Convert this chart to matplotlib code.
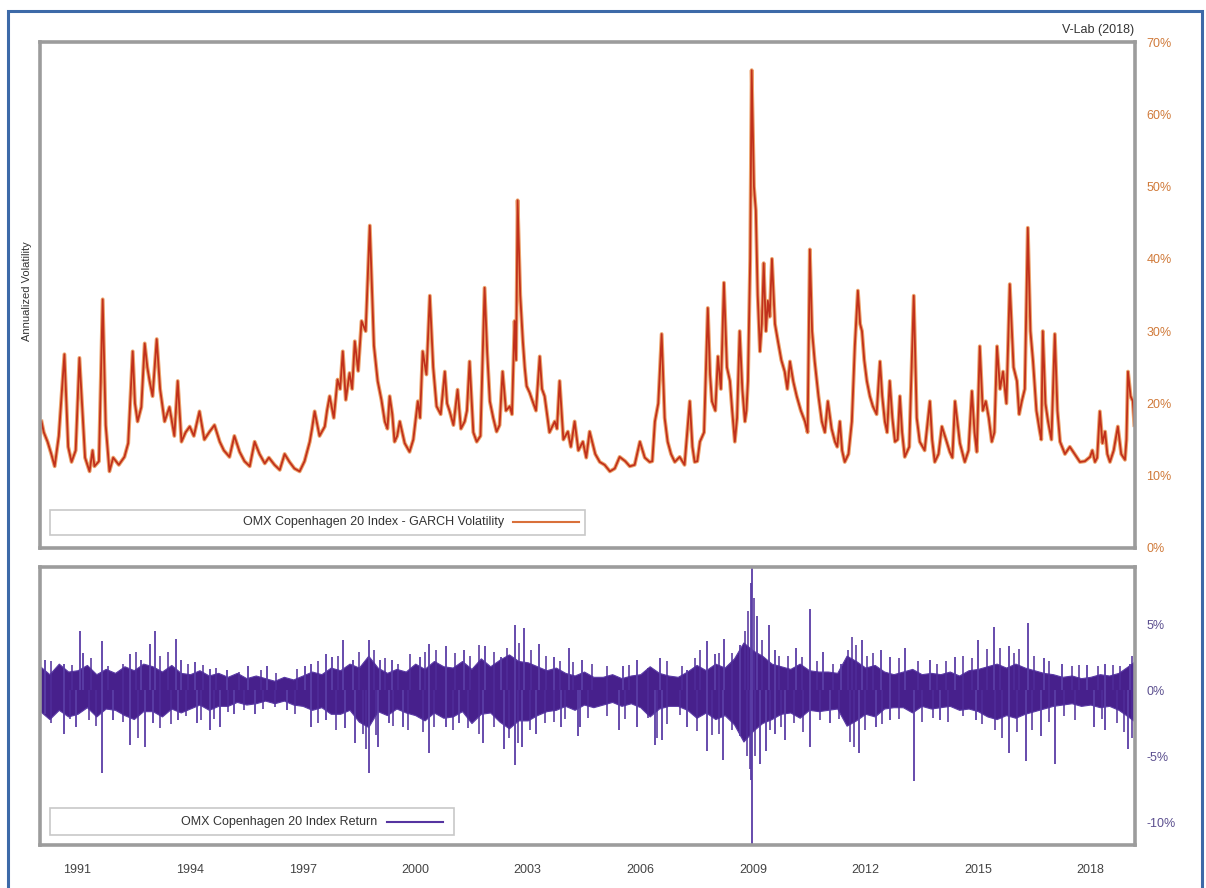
import matplotlib
matplotlib.use('Agg')
import matplotlib.pyplot as plt
from matplotlib.patches import Rectangle
import numpy as np

plt.rcParams['font.family'] = ['Liberation Sans', 'DejaVu Sans']

# GARCH volatility (%): main turning points (decimal year, value)
vol_years = [1990.04, 1990.2, 1990.39, 1990.65, 1990.84, 1991.05, 1991.32, 1991.45, 1991.67, 1991.85,
             1992.25, 1992.47, 1992.6, 1992.79, 1992.92, 1993.11, 1993.32, 1993.67, 1993.77, 1993.99,
             1994.25, 1994.52, 1994.79, 1995.05, 1995.32, 1995.59, 1995.72, 1995.99, 1996.39, 1996.65,
             1996.92, 1997.19, 1997.32, 1997.59, 1997.72, 1997.93, 1998.07, 1998.25, 1998.39, 1998.57,
             1998.79, 1999.0, 1999.19, 1999.32, 1999.45, 1999.59, 1999.85, 2000.07, 2000.2, 2000.39,
             2000.57, 2000.79, 2000.92, 2001.13, 2001.32, 2001.45, 2001.64, 2001.85, 2001.99, 2002.17,
             2002.33, 2002.52, 2002.65, 2002.73, 2002.87, 2002.97, 2003.13, 2003.32, 2003.45, 2003.72,
             2003.85, 2004.07, 2004.25, 2004.47, 2004.65, 2004.92, 2005.19, 2005.45, 2005.72, 2005.99,
             2006.25, 2006.39, 2006.57, 2006.73, 2006.92, 2007.05, 2007.32, 2007.45, 2007.59, 2007.8,
             2007.91, 2008.07, 2008.23, 2008.39, 2008.52, 2008.65, 2008.79, 2008.87, 2008.97, 2009.08,
             2009.19, 2009.29, 2009.4, 2009.51, 2009.67, 2009.85, 2009.99, 2010.17, 2010.39, 2010.52,
             2010.65, 2010.84, 2011.0, 2011.19, 2011.32, 2011.45, 2011.64, 2011.8, 2011.91, 2012.04,
             2012.2, 2012.39, 2012.52, 2012.65, 2012.79, 2012.92, 2013.05, 2013.29, 2013.45, 2013.72,
             2013.85, 2014.04, 2014.25, 2014.39, 2014.65, 2014.84, 2014.97, 2015.05, 2015.21, 2015.37,
             2015.51, 2015.67, 2015.85, 2016.04, 2016.17, 2016.33, 2016.47, 2016.65, 2016.73, 2016.87,
             2017.05, 2017.19, 2017.45, 2017.72, 2017.99, 2018.12, 2018.25, 2018.39, 2018.52, 2018.73,
             2018.92, 2019.0, 2019.13]
vol_values = [17.5, 14.7, 11.3, 26.8, 11.9, 26.3, 10.6, 11.3, 34.4, 10.6,
              12.6, 27.2, 17.5, 28.3, 23.1, 28.9, 17.5, 23.1, 14.7, 16.8,
              18.9, 16.1, 14.7, 12.6, 13.3, 11.3, 14.7, 11.7, 10.8, 11.9,
              10.6, 14.7, 18.9, 16.8, 21.0, 23.3, 27.2, 24.2, 28.6, 31.4,
              44.6, 23.1, 17.5, 21.0, 14.7, 17.5, 13.3, 20.3, 27.2, 34.9,
              19.6, 24.4, 18.9, 21.9, 17.5, 25.8, 14.7, 36.0, 20.3, 16.1,
              24.4, 19.6, 31.4, 48.1, 28.6, 22.4, 20.3, 26.5, 21.0, 17.5,
              23.1, 16.1, 17.5, 14.7, 16.1, 11.9, 10.6, 12.6, 11.3, 14.7,
              11.9, 17.5, 29.6, 14.7, 11.9, 12.6, 20.3, 11.9, 14.7, 33.2,
              20.3, 26.5, 36.7, 23.1, 14.7, 30.0, 17.5, 23.1, 66.1, 46.7,
              27.2, 39.4, 34.2, 40.0, 28.6, 24.4, 25.8, 21.0, 17.5, 41.3,
              25.8, 17.5, 20.3, 14.7, 17.5, 11.9, 17.5, 35.6, 30.0, 23.1,
              19.6, 25.8, 17.5, 23.1, 14.7, 21.0, 12.6, 34.9, 14.7, 20.3,
              11.9, 16.8, 13.3, 20.3, 11.9, 21.7, 13.3, 27.9, 20.3, 14.7,
              27.9, 24.4, 36.5, 23.1, 20.3, 44.3, 25.8, 16.1, 30.0, 17.5,
              29.6, 14.7, 14.0, 11.9, 12.6, 11.9, 18.9, 16.1, 11.9, 16.8,
              12.2, 24.4, 20.3]

# smaller wiggles between the turning points
wiggle_years = [1990.1, 1990.3, 1990.5, 1990.75, 1990.95, 1991.2, 1991.4, 1991.57, 1991.75, 1991.95,
                1992.1, 1992.35, 1992.53, 1992.7, 1992.86, 1993.0, 1993.2, 1993.45, 1993.58, 1993.72,
                1993.88, 1994.1, 1994.38, 1994.65, 1994.9, 1995.18, 1995.45, 1995.85, 1996.1, 1996.25,
                1996.52, 1996.78, 1997.05, 1997.25, 1997.45, 1997.65, 1997.83, 1998.0, 1998.15, 1998.32,
                1998.48, 1998.68, 1998.9, 1999.1, 1999.26, 1999.39, 1999.52, 1999.72, 1999.95, 2000.13,
                2000.3, 2000.48, 2000.68, 2000.85, 2001.02, 2001.22, 2001.38, 2001.55, 2001.74, 2001.92,
                2002.08, 2002.25, 2002.42, 2002.58, 2002.69, 2002.8, 2002.92, 2003.05, 2003.22, 2003.38,
                2003.58, 2003.78, 2003.95, 2004.15, 2004.35, 2004.56, 2004.8, 2005.05, 2005.32, 2005.6,
                2005.85, 2006.12, 2006.32, 2006.48, 2006.65, 2006.82, 2007.18, 2007.39, 2007.52, 2007.7,
                2007.86, 2008.0, 2008.15, 2008.31, 2008.45, 2008.58, 2008.72, 2008.83, 2008.93, 2009.03,
                2009.13, 2009.24, 2009.35, 2009.45, 2009.59, 2009.76, 2009.92, 2010.08, 2010.28, 2010.46,
                2010.58, 2010.75, 2010.92, 2011.1, 2011.25, 2011.38, 2011.55, 2011.72, 2011.86, 2011.97,
                2012.12, 2012.3, 2012.45, 2012.58, 2012.72, 2012.86, 2012.98, 2013.17, 2013.37, 2013.58,
                2013.78, 2013.95, 2014.15, 2014.32, 2014.52, 2014.75, 2014.91, 2015.13, 2015.29, 2015.44,
                2015.59, 2015.76, 2015.95, 2016.1, 2016.25, 2016.4, 2016.56, 2016.69, 2016.8, 2016.96,
                2017.12, 2017.32, 2017.58, 2017.85, 2018.05, 2018.18, 2018.32, 2018.45, 2018.62, 2018.82,
                2018.96, 2019.07, 2019.17]
wiggle_values = [16.0, 13.0, 15.5, 14.0, 13.5, 12.5, 13.5, 12.0, 17.0, 12.5,
                 11.5, 14.5, 20.0, 19.5, 25.0, 21.0, 22.0, 19.5, 15.5, 19.0,
                 16.0, 15.5, 15.0, 17.0, 13.5, 15.5, 12.0, 13.0, 12.5, 11.5,
                 13.0, 11.0, 12.0, 16.5, 15.5, 19.0, 18.0, 22.0, 20.5, 22.0,
                 24.5, 30.0, 28.0, 20.5, 16.5, 18.5, 15.5, 14.5, 15.0, 18.0,
                 24.0, 25.0, 18.5, 20.0, 17.0, 16.5, 19.0, 16.0, 15.5, 27.0,
                 18.0, 17.0, 19.0, 18.5, 26.0, 35.0, 25.0, 21.5, 19.0, 22.0,
                 16.0, 16.5, 15.0, 14.0, 13.5, 12.5, 13.0, 11.5, 11.0, 12.0,
                 11.5, 12.5, 12.0, 20.0, 18.0, 13.0, 11.5, 14.0, 12.0, 16.0,
                 24.0, 19.0, 22.0, 25.0, 19.0, 18.0, 22.0, 19.0, 40.0, 50.0,
                 35.0, 31.0, 30.0, 32.0, 31.0, 26.0, 22.0, 23.0, 19.0, 16.0,
                 30.0, 21.0, 16.0, 16.5, 14.0, 13.5, 13.0, 28.0, 31.0, 26.0,
                 21.0, 18.5, 21.0, 16.0, 18.0, 15.0, 16.0, 14.0, 18.0, 13.5,
                 15.0, 13.0, 15.0, 12.5, 14.5, 13.5, 16.0, 19.0, 18.0, 16.0,
                 22.0, 20.0, 25.0, 18.5, 22.0, 30.0, 19.0, 15.0, 20.0, 15.0,
                 19.0, 13.0, 13.0, 12.0, 13.5, 12.5, 14.5, 13.0, 13.5, 13.0,
                 15.0, 21.0, 17.0]

# daily return (%): dense core band, one pair of edges per quarter
core_hi = [1.8, 1.2, 2.0, 1.4, 1.5, 1.9, 1.2, 1.6, 1.3, 1.8, 1.5, 2.0, 1.8, 1.4, 1.9, 1.3,
           1.2, 1.5, 1.1, 1.3, 1.0, 1.3, 0.9, 1.1, 0.9, 0.7, 1.0, 0.8, 1.1, 1.4, 1.2, 1.7,
           1.5, 2.0, 1.7, 2.6, 1.7, 1.3, 1.6, 1.4, 2.0, 1.6, 2.2, 1.8, 1.7, 2.2, 1.6, 2.4,
           1.8, 2.3, 2.7, 2.2, 2.1, 1.8, 1.5, 1.7, 1.3, 1.1, 1.4, 1.0, 1.0, 1.2, 0.9, 1.1,
           1.2, 1.8, 1.3, 1.1, 1.0, 1.4, 1.9, 1.5, 2.0, 1.7, 2.4, 3.6, 3.0, 2.6, 2.0, 1.8,
           1.6, 2.0, 1.5, 1.4, 1.4, 1.3, 2.6, 2.2, 1.7, 1.9, 1.4, 1.2, 1.4, 1.6, 1.2, 1.3,
           1.2, 1.4, 1.1, 1.5, 1.6, 1.8, 2.0, 1.7, 2.0, 1.7, 1.5, 1.3, 1.2, 1.0, 1.1, 0.9,
           1.0, 1.2, 1.1, 1.3, 1.8, 2.2]
core_lo = [-1.6, -2.2, -1.5, -2.0, -1.8, -1.3, -2.0, -1.4, -1.5, -1.9, -2.2, -1.6, -1.6, -2.0, -1.4, -1.7,
           -1.4, -1.1, -1.5, -1.2, -1.2, -0.9, -1.1, -1.0, -0.8, -1.0, -0.8, -1.1, -1.2, -1.5, -1.3, -1.8,
           -1.8, -1.5, -2.4, -2.8, -1.6, -1.9, -1.4, -1.7, -1.9, -2.3, -1.7, -2.1, -2.0, -1.6, -2.5, -1.8,
           -1.7, -2.4, -2.9, -2.3, -2.3, -1.9, -1.6, -1.5, -1.2, -1.5, -1.1, -1.3, -1.1, -0.9, -1.2, -1.0,
           -1.3, -2.0, -1.4, -1.2, -1.2, -1.5, -2.1, -1.7, -2.2, -1.9, -2.6, -3.9, -3.1, -2.5, -2.2, -1.8,
           -1.7, -2.1, -1.5, -1.6, -1.5, -1.4, -2.7, -2.3, -1.8, -2.0, -1.4, -1.3, -1.3, -1.7, -1.2, -1.4,
           -1.3, -1.2, -1.5, -1.4, -1.6, -2.0, -2.2, -1.9, -2.1, -1.8, -1.6, -1.4, -1.2, -1.1, -1.0, -1.2,
           -1.1, -1.3, -1.2, -1.5, -2.0, -2.4]
core_years = list(np.arange(1990.0, 2019.01, 0.25)) + [2019.19]

# large single-day return spikes (%)
spike_years = [1990.12, 1990.63, 1991.06, 1991.15, 1991.66, 1992.41, 1992.69, 1992.93, 1993.07, 1993.63,
               1993.77, 1994.14, 1994.52, 1994.99, 1995.55, 1996.06, 1997.05, 1997.23, 1997.61, 1997.79,
               1998.07, 1998.35, 1998.78, 1999.06, 1999.38, 2000.13, 2000.37, 2000.83, 2001.3, 2001.86,
               2002.29, 2002.66, 2002.89, 2003.31, 2003.69, 2004.11, 2004.44, 2005.53, 2005.91, 2006.53,
               2007.24, 2007.77, 2008.0, 2008.24, 2008.67, 2008.96, 2008.97, 2009.1, 2009.43, 2009.58,
               2010.15, 2010.53, 2010.86, 2011.34, 2011.91, 2012.43, 2012.67, 2013.05, 2013.72, 2014.39,
               2015.0, 2015.43, 2015.82, 2016.34, 2016.77, 2017.24, 2017.91, 2018.39, 2019.05,
               1990.12, 1990.63, 1990.96, 1991.66, 1991.94, 1992.41, 1992.79, 1993.02, 1993.68, 1994.19,
               1994.52, 1994.8, 1995.18, 1995.74, 1996.58, 1997.23, 1997.61, 1998.12, 1998.4, 1998.78,
               1999.01, 1999.29, 1999.67, 2000.37, 2000.83, 2001.16, 2001.82, 2002.38, 2002.66, 2002.85,
               2003.22, 2003.88, 2004.35, 2004.39, 2005.44, 2005.91, 2006.39, 2006.58, 2007.24, 2007.77,
               2008.2, 2008.67, 2008.96, 2008.97, 2009.2, 2009.34, 2009.58, 2009.87, 2010.53, 2011.06,
               2011.82, 2012.29, 2012.67, 2013.29, 2014.0, 2014.95, 2015.82, 2016.29, 2016.67, 2017.05,
               2018.1, 2018.39, 2019.0]
spike_values = [2.3, 2.0, 4.5, 2.8, 3.7, 2.7, 2.3, 3.5, 4.5, 3.9,
                2.3, 2.1, 1.6, 1.5, 1.8, 1.8, 1.8, 2.0, 2.7, 2.5,
                3.8, 2.3, 3.8, 2.3, 2.3, 2.5, 3.5, 3.3, 3.0, 3.3,
                2.5, 4.9, 4.7, 3.5, 2.5, 3.2, 2.3, 1.8, 2.3, 2.4,
                1.5, 3.7, 2.7, 3.9, 3.4, 8.1, 9.8, 5.6, 4.9, 3.0,
                3.2, 6.1, 2.9, 2.0, 3.8, 3.0, 2.5, 3.2, 2.3, 2.5,
                3.8, 4.8, 3.3, 5.1, 2.4, 2.0, 1.9, 2.0, 2.0,
                -1.8, -3.3, -2.8, -6.3, -2.3, -4.2, -4.3, -2.5, -2.3, -2.5,
                -3.0, -2.8, -1.8, -1.8, -1.5, -2.8, -2.3, -2.9, -4.0, -6.3,
                -4.3, -2.5, -2.8, -4.8, -2.8, -2.5, -4.0, -4.5, -5.7, -4.3,
                -3.3, -2.8, -3.5, -2.8, -3.0, -2.8, -4.2, -3.8, -2.8, -4.6,
                -5.3, -3.5, -6.8, -12.5, -5.6, -4.6, -3.3, -3.8, -4.3, -2.5,
                -4.8, -2.8, -2.3, -6.9, -2.3, -2.3, -4.8, -5.4, -3.5, -5.6,
                -2.8, -3.0, -4.5]

# smaller return spikes around the core
minor_years = [1990.3, 1990.85, 1991.35, 1991.8, 1992.2, 1992.55, 1993.2, 1993.4, 1993.95, 1994.35,
               1994.7, 1995.3, 1995.9, 1996.3, 1996.85, 1997.4, 1997.95, 1998.5, 1998.9, 1999.2,
               1999.55, 1999.85, 2000.25, 2000.55, 2001.05, 2001.45, 2001.7, 2002.1, 2002.45, 2002.78,
               2003.1, 2003.5, 2003.85, 2004.2, 2004.7, 2005.1, 2005.7, 2006.2, 2006.7, 2007.1,
               2007.45, 2007.6, 2008.1, 2008.45, 2008.8, 2008.88, 2009.02, 2009.25, 2009.7, 2009.95,
               2010.3, 2010.7, 2011.15, 2011.55, 2011.65, 2011.75, 2012.05, 2012.2, 2012.9, 2013.4,
               2013.9, 2014.15, 2014.6, 2014.85, 2015.25, 2015.6, 2015.95, 2016.1, 2016.5, 2016.9,
               2017.5, 2017.7, 2018.2, 2018.6, 2018.8, 2019.1,
               1990.3, 1990.8, 1991.3, 1991.5, 1992.2, 1992.6, 1993.2, 1993.5, 1993.9, 1994.3,
               1994.65, 1995.0, 1995.45, 1995.95, 1996.25, 1996.8, 1997.4, 1997.9, 1998.6, 1998.7,
               1998.95, 1999.4, 1999.8, 2000.2, 2000.5, 2001.0, 2001.4, 2001.7, 2002.1, 2002.5,
               2002.75, 2003.05, 2003.45, 2003.7, 2004.0, 2004.6, 2005.1, 2005.6, 2006.2, 2006.45,
               2006.7, 2007.05, 2007.5, 2007.9, 2008.1, 2008.45, 2008.85, 2008.92, 2009.05, 2009.45,
               2009.75, 2010.1, 2010.35, 2010.8, 2011.3, 2011.6, 2011.7, 2012.0, 2012.45, 2012.9,
               2013.5, 2013.8, 2014.2, 2014.6, 2015.1, 2015.45, 2015.65, 2016.05, 2016.45, 2016.9,
               2017.3, 2017.6, 2018.3, 2018.7, 2018.9, 2019.12]
minor_values = [2.2, 1.9, 2.4, 1.8, 2.0, 2.9, 2.6, 2.9, 2.0, 1.9,
                1.7, 1.4, 1.5, 1.3, 1.6, 2.2, 2.6, 2.9, 3.0, 2.4,
                2.0, 2.7, 2.9, 3.0, 2.8, 2.6, 3.4, 2.9, 3.2, 3.6,
                3.0, 2.6, 2.2, 2.1, 2.0, 1.8, 1.9, 1.7, 2.2, 1.8,
                2.4, 3.0, 2.8, 2.8, 4.5, 6.0, 7.0, 3.8, 2.6, 2.6,
                2.5, 2.2, 2.0, 3.0, 4.0, 3.4, 2.6, 2.8, 2.4, 2.2,
                2.0, 2.2, 2.6, 2.4, 3.1, 3.2, 2.8, 3.1, 2.6, 2.2,
                1.8, 1.9, 1.8, 1.9, 1.8, 2.6,
                -2.5, -2.2, -2.3, -2.7, -2.4, -3.6, -2.9, -2.6, -2.0, -2.3,
                -2.2, -1.7, -1.5, -1.4, -1.3, -1.8, -2.5, -3.0, -3.3, -4.5,
                -3.4, -2.7, -3.0, -3.2, -2.8, -3.0, -2.9, -3.3, -2.8, -3.6,
                -4.0, -3.0, -2.5, -2.4, -2.2, -2.1, -2.0, -2.2, -2.1, -3.6,
                -2.6, -1.9, -3.1, -3.4, -3.3, -3.0, -5.0, -6.0, -5.0, -3.0,
                -2.8, -2.5, -3.2, -2.3, -2.2, -3.9, -4.3, -3.0, -2.6, -2.2,
                -2.4, -2.1, -2.4, -2.0, -2.6, -3.0, -3.6, -3.2, -3.0, -2.4,
                -2.0, -2.3, -2.2, -2.5, -3.2, -3.6]

tick_years = [1991, 1994, 1997, 2000, 2003, 2006, 2009, 2012, 2015, 2018]
vol_ticks = [0, 10, 20, 30, 40, 50, 60, 70]
ret_ticks = [-10, -5, 0, 5]

frame_col = '#9c9c9c'
purple = '#47208c'

# merge turning points and wiggles in time order
vx = np.array(vol_years + wiggle_years)
vy = np.array(vol_values + wiggle_values)
order = np.argsort(vx)
vx, vy = vx[order], vy[order]

fig = plt.figure(figsize=(12.06, 8.88), dpi=100)
ax1 = fig.add_axes([0.0332, 0.3829, 0.9080, 0.5698])
ax2 = fig.add_axes([0.0332, 0.0484, 0.9080, 0.3131])

# volatility panel
ax1.plot(vx, vy, color='#eca46e', lw=2.8)
ax1.plot(vx, vy, color='#c1301b', lw=1.3)
ax1.set_xlim(1990.0, 2019.19)
ax1.set_ylim(0, 70)
ax1.yaxis.tick_right()
ax1.set_yticks(vol_ticks)
ax1.set_yticklabels([f'{v}%' for v in vol_ticks])
ax1.tick_params(axis='y', length=0, pad=8, labelsize=9, labelcolor='#d07a3a')
ax1.set_xticks([])

# return panel
ax2.fill_between(core_years, core_lo, core_hi, color=purple, lw=0.8, edgecolor='#5a3aa5')
ax2.vlines(minor_years, 0, minor_values, color='#4f2d9a', lw=1.1)
ax2.vlines(spike_years, 0, spike_values, color='#5a3da6', lw=1.3)
ax2.set_xlim(1990.0, 2019.19)
ax2.set_ylim(-11.74, 9.32)
ax2.yaxis.tick_right()
ax2.set_yticks(ret_ticks)
ax2.set_yticklabels([f'{v}%' for v in ret_ticks])
ax2.tick_params(axis='y', length=0, pad=8, labelsize=9, labelcolor='#5b4f8f')
ax2.set_xticks(tick_years)
ax2.set_xticklabels([str(y) for y in tick_years])
ax2.tick_params(axis='x', length=0, pad=14, labelsize=9, labelcolor='#444444')

for ax in (ax1, ax2):
    for s in ax.spines.values():
        s.set_color(frame_col)
        s.set_linewidth(2.6)

# legends drawn as boxes inside the panels
def box_legend(ax, x0, x1, y0, y1, text, text_end, line_x0, line_x1, color):
    ax.add_patch(Rectangle((x0, y0), x1 - x0, y1 - y0, transform=ax.transAxes,
                           facecolor='white', edgecolor='#c8c8c8', lw=1.2, zorder=5))
    ax.text(text_end, (y0 + y1) / 2, text, transform=ax.transAxes, ha='right', va='center',
            fontsize=9, color='#333333', zorder=6)
    ax.plot([line_x0, line_x1], [(y0 + y1) / 2] * 2, transform=ax.transAxes,
            color=color, lw=1.5, zorder=6)

box_legend(ax1, 0.009, 0.498, 0.026, 0.075, 'OMX Copenhagen 20 Index - GARCH Volatility',
           0.424, 0.432, 0.492, '#d9703a')
box_legend(ax2, 0.009, 0.378, 0.036, 0.133, 'OMX Copenhagen 20 Index Return',
           0.308, 0.317, 0.368, '#5534a0')

fig.text(0.0225, 0.672, 'Annualized Volatility', rotation=90, ha='center', va='center',
         fontsize=8, color='#333333')
fig.text(0.940, 0.966, 'V-Lab (2018)', ha='right', va='center', fontsize=9, color='#333333')

# blue outer border
fig.add_artist(Rectangle((0.007, -0.02), 0.990, 1.008, transform=fig.transFigure,
                         fill=False, edgecolor='#3d6aa8', lw=2.2))

plt.savefig('out.png', dpi=100)
